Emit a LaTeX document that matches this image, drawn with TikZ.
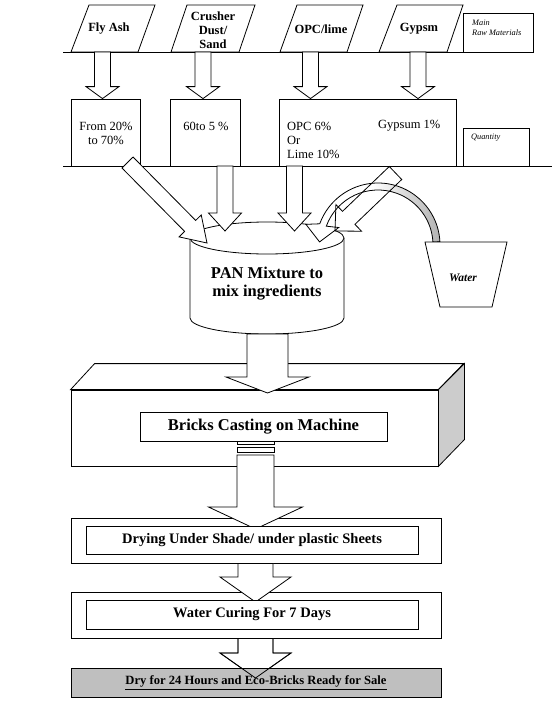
\documentclass[tikz,border=0pt]{standalone}
\usepackage{fontspec}
\setmainfont{Liberation Serif}
\usetikzlibrary{calc}

% hollow block arrow: [opts]{tail}{tip}{shaft half width}{head half width}{head length}
\newcommand{\blockarrow}[6][]{%
  \coordinate (ah) at ($(#3)!#6!(#2)$);
  \draw[blk, #1] ($(#2)!#4!90:(#3)$) -- ($(ah)!#4!90:(#3)$) -- ($(ah)!#5!90:(#3)$)
    -- (#3) -- ($(ah)!#5!-90:(#3)$) -- ($(ah)!#4!-90:(#3)$)
    -- ($(#2)!#4!-90:(#3)$) -- cycle;}

\begin{document}
\begin{tikzpicture}[x=1pt, y=-1pt,
    line/.style={line width=0.8pt},
    blk/.style={draw, line width=0.8pt, fill=white},
    qbox/.style={draw, line width=0.8pt, fill=white, inner sep=0pt},
    lab/.style={font=\fontsize{12.5}{14}\selectfont\bfseries, align=center, inner sep=0pt},
    qty/.style={font=\fontsize{12.5}{14}\selectfont, align=left, inner sep=0pt},
    note/.style={font=\fontsize{8.3}{10}\selectfont\itshape, align=left, inner sep=0pt},
    stagebox/.style={draw, line width=0.8pt, fill=white, inner sep=0pt},
    stage/.style={stagebox, font=\fontsize{14.5}{17}\selectfont\bfseries}]

\useasboundingbox (0,0) rectangle (556,701);

% main raw materials
\draw[line] (63,52) -- (463,52);
\draw[blk] (71,52) -- (138,52) -- (155,5) -- (89,5) -- cycle;
\draw[blk] (171,52) -- (239,52) -- (255,5) -- (187,5) -- cycle;
\draw[blk] (280,52) -- (347,52) -- (363,5) -- (297,5) -- cycle;
\draw[blk] (379,52) -- (447,52) -- (463,5) -- (397,5) -- cycle;
\node[qbox, minimum width=70pt, minimum height=39pt] (mainbox) at (498,32.5) {};
\node[note, anchor=west] (mainlab) at (472,28) {Main\\Raw Materials};

% quantity row
\draw[line] (63,166) -- (552,166);
\node[qbox, minimum width=69pt, minimum height=67pt] (qfly) at (105.5,132.5) {};
\node[qbox, minimum width=70pt, minimum height=67pt] (qcrush) at (205,132.5) {};
\node[qbox, minimum width=177pt, minimum height=67pt] (qmix) at (367.5,132.5) {};
\node[qbox, minimum width=66pt, minimum height=38pt] (qtybox) at (496,147) {};
\node[note, anchor=west] (qtylab) at (471,138) {Quantity};

% arrows raw material -> quantity
\coordinate (flyout) at (102.5,52);
\coordinate (crout) at (203,52);
\coordinate (opcout) at (310.5,52);
\coordinate (gypout) at (418,52);
\blockarrow{flyout}{flyout |- qfly.north}{8pt}{16.5pt}{12pt}
\blockarrow{crout}{crout |- qcrush.north}{8pt}{16.5pt}{12pt}
\blockarrow{opcout}{opcout |- qmix.north}{8pt}{16.5pt}{12pt}
\blockarrow{gypout}{gypout |- qmix.north}{8pt}{16.5pt}{12pt}

% labels
\node[lab] (fly) at (109,29) {Fly Ash};
\node[lab] (crusher) at (213,30) {Crusher\\Dust/\\Sand};
\node[lab] (opc) at (321,29) {OPC/lime};
\node[lab] (gyp) at (419,29) {Gypsm};
\node[qty, align=center] (flyq) at (106,133) {From 20\%\\to 70\%};
\node[qty] (crq) at (206,126) {60to 5 \%};
\node[qty, anchor=west] (opcq) at (287,140) {OPC 6\%\\Or\\Lime 10\%};
\node[qty, anchor=west] (gypq) at (378,126) {Gypsum 1\%};

% pan mixture
\draw[line, fill=white] (190,238) -- (190,318)
  arc[start angle=180, end angle=0, x radius=77, y radius=16] -- (344,238);
\draw[line, fill=white] (267,238) ellipse[x radius=77, y radius=16];
\coordinate (pantop) at (267,238);
\coordinate (panbottom) at (267.5,334);

% water hose and bucket
\coordinate (hc) at (378,245);
\draw[line, left color=white, right color=gray!60, middle color=white]
  ($(hc)+(-3:62)$) arc[start angle=-3, end angle=-160, radius=62]
  -- ($(hc)+(-164:75)$) -- ($(hc)+(-177:58.5)$) -- ($(hc)+(-156:43)$)
  -- ($(hc)+(-160:55)$) arc[start angle=-160, end angle=-3, radius=55] -- cycle;
\draw[line, fill=white] (425,242) -- (507,242) -- (492,307) -- (440,307) -- cycle;
\node[font=\fontsize{11.5}{13}\selectfont\bfseries\itshape] (water) at (463,278) {Water};

% quantities -> pan
\coordinate (flydrop) at (127.5,162.5);
\coordinate (crdrop) at (225,166);
\coordinate (opcdrop) at (294.5,166);
\coordinate (gypdrop) at (395.5,173);
\blockarrow{flydrop}{207,243}{7.8pt}{15.6pt}{24pt}
\blockarrow{crdrop}{225,231}{8pt}{16.5pt}{18pt}
\blockarrow{opcdrop}{294.5,231}{8pt}{16.5pt}{18pt}
\blockarrow[fill=none]{gypdrop}{335,231}{9pt}{18.5pt}{19pt}
\node[font=\fontsize{16.5}{18}\selectfont\bfseries, align=center] (pan) at (267,284)
  {PAN Mixture to\\mix ingredients};

% casting machine
\node[stagebox, minimum width=367pt, minimum height=76pt] (machine) at (254.5,428) {};
\draw[line, fill=white] (machine.north west) -- ++(24,-26) -- ++(369,0)
  -- (machine.north east) -- cycle;
\draw[line, fill=gray!40] (machine.north east) -- ++(26,-26) -- ++(0,76)
  -- (machine.south east) -- cycle;
\blockarrow{panbottom}{267.5,393}{20.5pt}{41.5pt}{16pt}
\node[stagebox, minimum width=247pt, minimum height=29pt,
  font=\fontsize{16.5}{18}\selectfont\bfseries] (cast) at (263.5,426.5)
  {Bricks Casting on Machine};
\draw[line, fill=white] (237,441) rectangle (274,444);
\draw[line, fill=white] (237,447) rectangle (274,452);
\coordinate (castout) at (255.5,455);

% drying
\node[stagebox, minimum width=370pt, minimum height=45pt] (dryout) at (256,540.5) {};
\blockarrow{castout}{255.5,529}{18.5pt}{47pt}{22pt}
\node[stage, minimum width=332pt, minimum height=28pt] (dry) at (252,540)
  {Drying Under Shade/ under plastic Sheets};

% curing
\node[stagebox, minimum width=370pt, minimum height=46pt] (cureout) at (256,615) {};
\blockarrow{dryout.south -| castout}{255.5,602}{17.5pt}{35.5pt}{25pt}
\node[stage, minimum width=332pt, minimum height=29pt] (cure) at (252,614.5)
  {Water Curing For 7 Days};

% ready for sale
\blockarrow{cureout.south -| castout}{255.5,678}{17.5pt}{35.5pt}{25pt}
\node[stagebox, fill=gray!50, minimum width=370pt, minimum height=29pt] (saleout) at (256,682.5) {};
\blockarrow[fill=none]{cureout.south -| castout}{255.5,678}{17.5pt}{35.5pt}{25pt}
\node[font=\fontsize{12.6}{14}\selectfont\bfseries] (sale) at (256,682.5)
  {\underline{Dry for 24 Hours and Eco-Bricks Ready for Sale}};
\end{tikzpicture}
\end{document}
